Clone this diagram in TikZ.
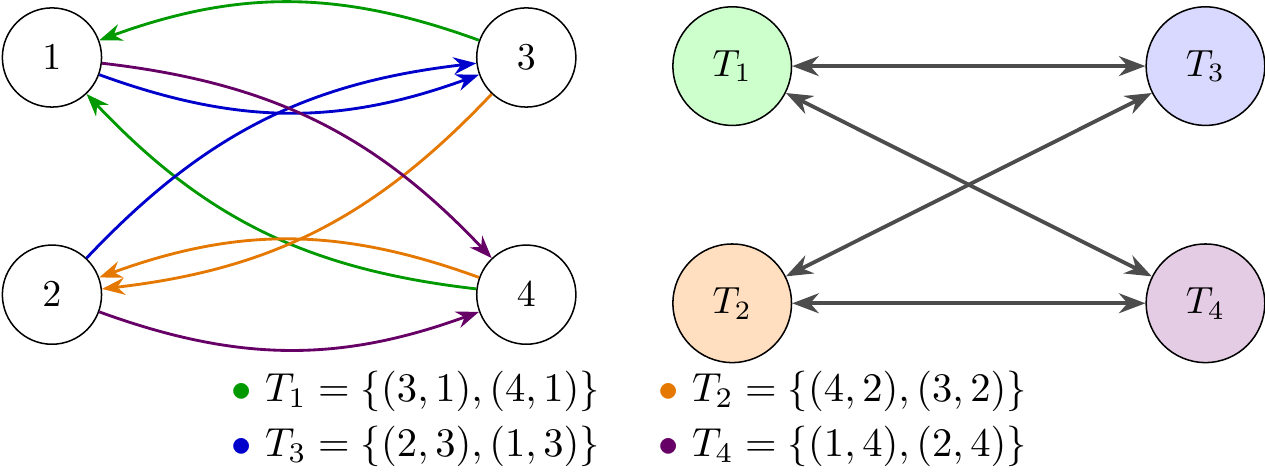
\documentclass[tikz,border=0pt]{standalone}
\usepackage{tikz}
\usetikzlibrary{arrows.meta}
\definecolor{tgreen}{rgb}{0,0.6,0}
\definecolor{tblue}{rgb}{0,0,0.8}
\definecolor{torange}{rgb}{0.9,0.47,0}
\definecolor{tviolet}{rgb}{0.4,0,0.4}
\tikzset{
	vert/.style={draw, circle, minimum size=0.92cm, inner sep=0pt},
	task/.style={draw, circle, minimum size=1.1cm, inner sep=0pt},
	edge/.style={line width=0.75pt, -{Stealth[length=6pt]}},
	link/.style={line width=1pt, black!70, {Stealth[length=7pt]}-{Stealth[length=7pt]}},
	entry/.style={anchor=base west, inner sep=0pt}
}

\begin{document}
\begin{tikzpicture}
			%%%%% START %%%%%
			\useasboundingbox (-0.482, 0.533) rectangle (11.252, -3.836);
			
			\node[vert] (v1) at (0, 0) {$1$};
			\node[vert] (v3) at (4.4, 0) {$3$};
			\node[vert] (v2) at (0, -2.2) {$2$};
			\node[vert] (v4) at (4.4, -2.2) {$4$};
			
			\draw[edge, tgreen] (v3) to[bend right=20] (v1);
			\draw[edge, tgreen] (v4) to[bend left=20] (v1);
			\draw[edge, tblue] (v2) to[bend left=20] (v3);
			\draw[edge, tblue] (v1) to[bend right=20] (v3);
			\draw[edge, torange] (v4) to[bend right=20] (v2);
			\draw[edge, torange] (v3) to[bend left=20] (v2);
			\draw[edge, tviolet] (v1) to[bend left=20] (v4);
			\draw[edge, tviolet] (v2) to[bend right=20] (v4);
			
			\node[task, fill=green!20] (t1) at (6.31, -0.08) {$T_1$};
			\node[task, fill=blue!15] (t3) at (10.7, -0.08) {$T_3$};
			\node[task, fill=orange!25] (t2) at (6.31, -2.28) {$T_2$};
			\node[task, fill=violet!20] (t4) at (10.7, -2.28) {$T_4$};
			
			\draw[link] (t1) -- (t3);
			\draw[link] (t1) -- (t4);
			\draw[link] (t2) -- (t3);
			\draw[link] (t2) -- (t4);
			
			\node[entry] (l1) at (1.656, -3.193) {\scalebox{1.07}{\textcolor{tgreen}{$\bullet$} $T_1 = \{(3,1),(4,1)\}$}};
			\node[entry] (l2) at (5.617, -3.193) {\scalebox{1.07}{\textcolor{torange}{$\bullet$} $T_2 = \{(4,2),(3,2)\}$}};
			\node[entry] (l3) at (1.656, -3.703) {\scalebox{1.07}{\textcolor{tblue}{$\bullet$} $T_3 = \{(2,3),(1,3)\}$}};
			\node[entry] (l4) at (5.617, -3.703) {\scalebox{1.07}{\textcolor{tviolet}{$\bullet$} $T_4 = \{(1,4),(2,4)\}$}};
			
			%%%%% END %%%%%
\end{tikzpicture}
\end{document}
